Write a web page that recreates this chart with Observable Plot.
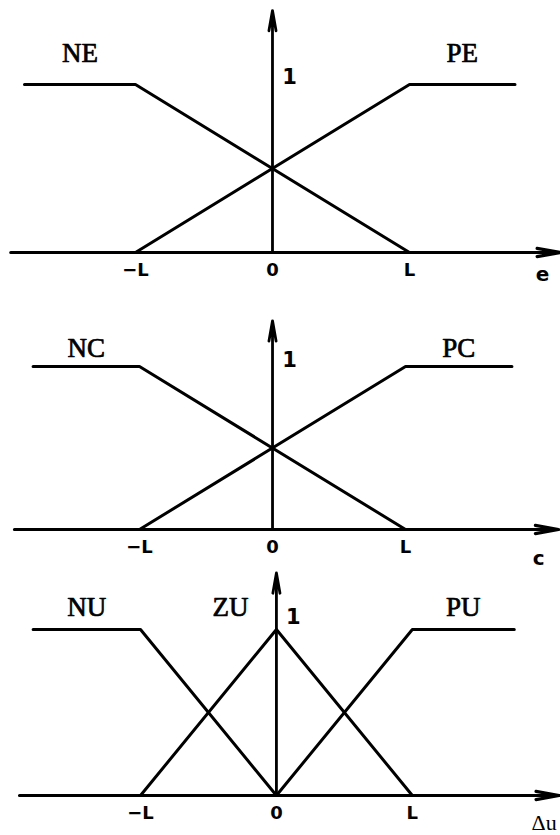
<!DOCTYPE html>
<html>
<head>
<meta charset="utf-8">
<script src="https://cdn.jsdelivr.net/npm/d3@7"></script>
<script src="https://cdn.jsdelivr.net/npm/@observablehq/plot@0.6"></script>
<style>
  body { margin: 0; background: #fff; }
  #chart { width: 560px; }
  #chart svg { display: block; background: #fff; }
</style>
</head>
<body>
<div id="chart"></div>
<script>
// Fuzzy membership functions for the error e, its change c and the output Δu (L = 1).
const tickValues = [-1, 0, 1];
const tickLabels = ["\u2212L", "0", "L"];

// error e
const eSets = ["NE", "PE"];
const eX = [[-1.81, -1, 1], [-1, 1, 1.77]];
const eMu = [[1, 1, 0], [0, 1, 1]];

// change of error c
const cSets = ["NC", "PC"];
const cX = [[-1.80, -1, 1], [-1, 1, 1.80]];
const cMu = [[1, 1, 0], [0, 1, 1]];

// control increment Δu
const uSets = ["NU", "ZU", "PU"];
const uX = [[-1.79, -1, 0], [-1, 0, 1], [0, 1, 1.75]];
const uMu = [[1, 1, 0], [0, 1, 0], [0, 1, 1]];

const axisNames = ["e", "c", "\u0394u"];

function rowsOf(sets, xs, mus) {
  return sets.flatMap((s, i) => xs[i].map((x, j) => ({set: s, x, mu: mus[i][j]})));
}

// label each set above its flat top (the peak for a triangle)
function labelsOf(sets, xs, mus) {
  return sets.map((s, i) => {
    const top = xs[i].filter((x, j) => mus[i][j] === 1);
    return {set: s, x: top.length > 1 ? (top[0] + top[top.length - 1]) / 2 : top[0], mu: 1};
  });
}

function panel(o) {
  const rows = rowsOf(o.sets, o.xs, o.mus);
  const labels = labelsOf(o.sets, o.xs, o.mus);
  const nameStyle = {
    x: "x", y: "mu", text: "set", dy: o.nameDy,
    fontFamily: "Liberation Serif", fontSize: 27,
    fill: "#000", stroke: "#000", strokeWidth: 0.7
  };
  const wide = o.axisName.length > 1;
  return Plot.plot({
    width: 560,
    height: o.height,
    marginLeft: 0,
    marginRight: 0,
    marginTop: 0,
    marginBottom: o.marginBottom,
    style: {fontFamily: "DejaVu Sans", color: "#000", background: "#fff"},
    x: {domain: o.xDomain},
    y: {domain: [0, o.yMax], axis: null},
    marks: [
      // horizontal axis with arrow
      Plot.arrow([0], {x1: o.xStart, x2: o.xEnd, y1: 0, y2: 0, stroke: "#000", strokeWidth: 3.2, headLength: 11, headAngle: 20}),
      // membership axis with arrow
      Plot.arrow([0], {x1: 0, x2: 0, y1: 0, y2: o.yTop, stroke: "#000", strokeWidth: 2.8, headLength: 11, headAngle: 20}),
      Plot.line(rows, {x: "x", y: "mu", z: "set", stroke: "#000", strokeWidth: 3, strokeLinejoin: "round"}),
      Plot.axisX({
        ticks: tickValues,
        tickFormat: d => tickLabels[tickValues.indexOf(d)],
        tickSize: 0,
        tickPadding: 11,
        fontSize: 18,
        fontWeight: "bold",
        label: null
      }),
      // set names over the shoulders; the central triangle's name sits left of the axis
      Plot.text(labels.filter(d => d.x !== 0), nameStyle),
      Plot.text(labels.filter(d => d.x === 0), {...nameStyle, dx: -46}),
      Plot.text(["1"], {x: 0, y: 1, text: d => d, dx: 17, dy: o.oneDy,
        fontFamily: "DejaVu Sans", fontSize: 21, fontWeight: "bold", fill: "#000"}),
      Plot.text([o.axisName], {x: o.nameX, y: 0, text: d => d, dy: o.axisDy,
        fontFamily: wide ? "Liberation Serif" : "DejaVu Sans",
        fontSize: wide ? 22 : 20,
        fontWeight: wide ? "normal" : "bold", fill: "#000"})
    ]
  });
}

const chart = document.getElementById("chart");

chart.append(panel({
  sets: eSets, xs: eX, mus: eMu,
  height: 292, marginBottom: 40, yMax: 1.5, xDomain: [-1.985, 2.102],
  yTop: 1.44, xStart: -1.91, xEnd: 2.1,
  nameDy: -31, oneDy: -7, axisName: axisNames[0], nameX: 1.97, axisDy: 22
}));

chart.append(panel({
  sets: cSets, xs: cX, mus: cMu,
  height: 278, marginBottom: 41, yMax: 1.454, xDomain: [-2.045, 2.165],
  yTop: 1.28, xStart: -1.94, xEnd: 2.15,
  nameDy: -18, oneDy: -6, axisName: axisNames[1], nameX: 2.0, axisDy: 29
}));

chart.append(panel({
  sets: uSets, xs: uX, mus: uMu,
  height: 265, marginBottom: 40, yMax: 1.355, xDomain: [-2.03, 2.09],
  yTop: 1.34, xStart: -1.89, xEnd: 2.08,
  nameDy: -22, oneDy: -12, axisName: axisNames[2], nameX: 1.97, axisDy: 27
}));
</script>
</body>
</html>
